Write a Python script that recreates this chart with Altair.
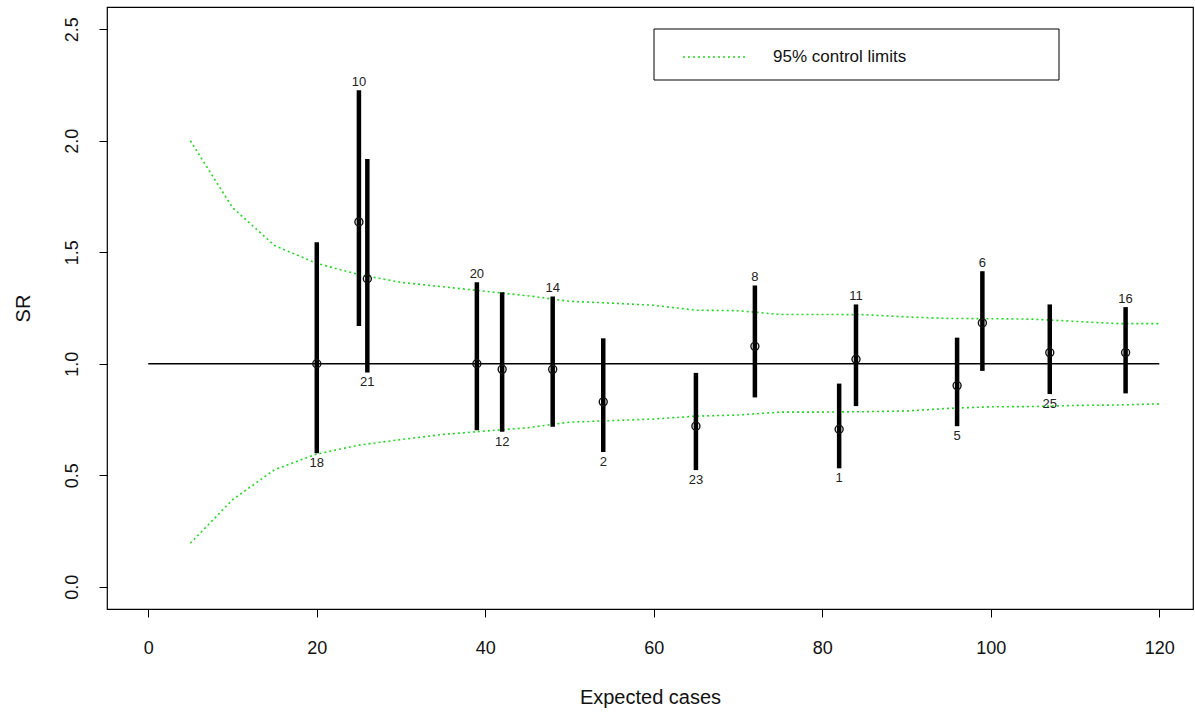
import altair as alt
import pandas as pd

# ---- data ----
area_ids = ["18", "10", "21", "20", "12", "14", "2", "23", "8", "1", "11", "5", "6", "25", "16"]
expected = [20, 25, 26, 39, 42, 48, 54, 65, 72, 82, 84, 96, 99, 107, 116]
sr = [1.000, 1.636, 1.381, 1.000, 0.975, 0.975, 0.829, 0.720, 1.078, 0.706, 1.020, 0.902, 1.183, 1.050, 1.050]
ci_low = [0.598, 1.169, 0.961, 0.702, 0.695, 0.717, 0.604, 0.523, 0.849, 0.531, 0.810, 0.720, 0.968, 0.864, 0.867]
ci_high = [1.545, 2.227, 1.918, 1.366, 1.321, 1.302, 1.114, 0.959, 1.351, 0.911, 1.266, 1.117, 1.415, 1.266, 1.254]
label_side = ["below", "above", "below", "above", "below", "above", "below", "below",
              "above", "below", "above", "below", "above", "below", "above"]

limit_x = [5, 10, 15, 20, 25, 30, 35, 40, 45, 50, 55, 60, 65, 70, 75, 80, 85, 90, 95, 100, 105, 110, 115, 120]
limit_upper = [2.00, 1.70, 1.53, 1.45, 1.40, 1.365, 1.345, 1.325, 1.305, 1.28, 1.272, 1.262,
               1.240, 1.238, 1.221, 1.221, 1.220, 1.210, 1.203, 1.202, 1.200, 1.190, 1.180, 1.180]
limit_lower = [0.195, 0.39, 0.525, 0.595, 0.635, 0.66, 0.683, 0.698, 0.713, 0.738, 0.745, 0.752,
               0.765, 0.770, 0.783, 0.783, 0.785, 0.788, 0.800, 0.807, 0.808, 0.813, 0.815, 0.820]

ref_x = [0, 120]
ref_y = 1.0

x_ticks = [0, 20, 40, 60, 80, 100, 120]
y_ticks = [0.0, 0.5, 1.0, 1.5, 2.0, 2.5]
legend_label = "95% control limits"

# ---- tables ----
pts = pd.DataFrame({"id": area_ids, "expected": expected, "sr": sr,
                    "lo": ci_low, "hi": ci_high, "side": label_side})
lim = pd.concat([
    pd.DataFrame({"x": limit_x, "v": limit_upper, "bound": "upper"}),
    pd.DataFrame({"x": limit_x, "v": limit_lower, "bound": "lower"}),
])
ref = pd.DataFrame({"x": [ref_x[0]], "x2": [ref_x[1]], "y": [ref_y]})

GREEN = "#1fdc1f"
FONT = "Liberation Sans"

x_scale = alt.Scale(domain=[-4.9, 124.0], nice=False, zero=False)
y_scale = alt.Scale(domain=[-0.1, 2.6], nice=False, zero=False)

x_axis = alt.Axis(values=x_ticks, title="Expected cases", grid=False, domain=False,
                  tickSize=8, tickColor="black", labelFontSize=18, labelColor="#111",
                  labelPadding=22, titleFontSize=20, titleFontWeight="normal",
                  titleColor="#111", titlePadding=30, labelFont=FONT, titleFont=FONT)
y_axis = alt.Axis(values=y_ticks, format=".1f", title="SR", grid=False, domain=False,
                  tickSize=8, tickColor="black", labelFontSize=18, labelColor="#111",
                  labelAngle=270, labelAlign="center", labelBaseline="bottom",
                  labelPadding=18, titleFontSize=20, titleFontWeight="normal",
                  titleColor="#111", titlePadding=30, labelFont=FONT, titleFont=FONT)


def X(field):
    return alt.X(field, type="quantitative", scale=x_scale, axis=x_axis)


def Y(field):
    return alt.Y(field, type="quantitative", scale=y_scale, axis=y_axis)


limits = alt.Chart(lim).mark_line(color=GREEN, strokeWidth=1.6, strokeDash=[2, 3]).encode(
    x=X("x"), y=Y("v"), detail="bound:N"
)

refline = alt.Chart(ref).mark_rule(color="black", strokeWidth=1.3).encode(
    x=X("x"), x2="x2", y=Y("y")
)

bars = alt.Chart(pts).mark_rule(color="black", strokeWidth=4.5).encode(
    x=X("expected"), y=Y("lo"), y2="hi"
)

circles = alt.Chart(pts).mark_point(shape="circle", filled=False, size=64,
                                    color="#111", strokeWidth=1.4, opacity=1).encode(
    x=X("expected"), y=Y("sr")
)

above = alt.Chart(pts).transform_filter(alt.datum.side == "above").mark_text(
    baseline="bottom", dy=-1, fontSize=13, font=FONT, color="#222"
).encode(x=X("expected"), y=Y("hi"), text="id:N")

below = alt.Chart(pts).transform_filter(alt.datum.side == "below").mark_text(
    baseline="top", dy=4, fontSize=13, font=FONT, color="#222"
).encode(x=X("expected"), y=Y("lo"), text="id:N")

one = alt.Data(values=[{"k": 1}])
leg_box = alt.Chart(one).mark_rect(fill="white", stroke="black", strokeWidth=1).encode(
    x=alt.value(547), x2=alt.value(952), y=alt.value(22), y2=alt.value(73)
)
leg_line = alt.Chart(one).mark_rule(color=GREEN, strokeWidth=1.6, strokeDash=[2, 3]).encode(
    x=alt.value(576), x2=alt.value(638), y=alt.value(50)
)
leg_text = alt.Chart(one).mark_text(align="left", baseline="middle", fontSize=17,
                                    font=FONT, color="#111").encode(
    x=alt.value(666), y=alt.value(50), text=alt.value(legend_label)
)

chart = alt.layer(limits, refline, bars, circles, above, below, leg_box, leg_line, leg_text).properties(
    width=1086, height=602,
    autosize=alt.AutoSizeParams(type="none"),
    padding={"left": 107, "top": 7, "right": 2, "bottom": 106},
    background="white",
).configure_view(stroke="black", strokeWidth=1.2)

chart.save("out.html", embed_options={"renderer": "svg", "actions": False})
